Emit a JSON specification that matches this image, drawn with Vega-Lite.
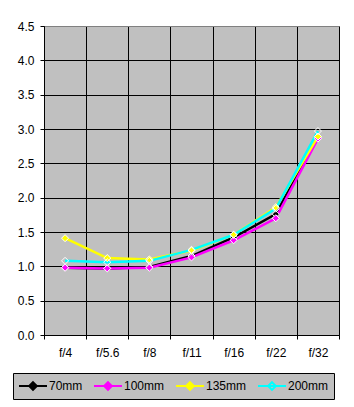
{
  "$schema": "https://vega.github.io/schema/vega-lite/v6.json",
  "width": 295,
  "height": 309,
  "autosize": "none",
  "padding": {"left": 44, "top": 26, "right": 15, "bottom": 72},
  "background": "white",
  "config": {
    "view": {"fill": "#c0c0c0", "stroke": "#808080", "strokeWidth": 1},
    "font": "Liberation Sans",
    "axis": {
      "labelFont": "Liberation Sans",
      "labelFontSize": 12,
      "labelColor": "black",
      "domainColor": "black",
      "tickColor": "black",
      "gridColor": "black",
      "gridOpacity": 1,
      "tickSize": 4
    },
    "legend": {"labelFont": "Liberation Sans"}
  },
  "data": {
    "values": [
      {"fstop": "f/4", "lens": "70mm", "value": 0.98},
      {"fstop": "f/5.6", "lens": "70mm", "value": 0.97},
      {"fstop": "f/8", "lens": "70mm", "value": 0.99},
      {"fstop": "f/11", "lens": "70mm", "value": 1.15},
      {"fstop": "f/16", "lens": "70mm", "value": 1.42},
      {"fstop": "f/22", "lens": "70mm", "value": 1.76},
      {"fstop": "f/32", "lens": "70mm", "value": 2.88},
      {"fstop": "f/4", "lens": "100mm", "value": 0.98},
      {"fstop": "f/5.6", "lens": "100mm", "value": 0.97},
      {"fstop": "f/8", "lens": "100mm", "value": 0.98},
      {"fstop": "f/11", "lens": "100mm", "value": 1.13},
      {"fstop": "f/16", "lens": "100mm", "value": 1.38},
      {"fstop": "f/22", "lens": "100mm", "value": 1.70},
      {"fstop": "f/32", "lens": "100mm", "value": 2.86},
      {"fstop": "f/4", "lens": "135mm", "value": 1.41},
      {"fstop": "f/5.6", "lens": "135mm", "value": 1.12},
      {"fstop": "f/8", "lens": "135mm", "value": 1.10},
      {"fstop": "f/11", "lens": "135mm", "value": 1.23},
      {"fstop": "f/16", "lens": "135mm", "value": 1.46},
      {"fstop": "f/22", "lens": "135mm", "value": 1.86},
      {"fstop": "f/32", "lens": "135mm", "value": 2.89},
      {"fstop": "f/4", "lens": "200mm", "value": 1.08},
      {"fstop": "f/5.6", "lens": "200mm", "value": 1.06},
      {"fstop": "f/8", "lens": "200mm", "value": 1.08},
      {"fstop": "f/11", "lens": "200mm", "value": 1.24},
      {"fstop": "f/16", "lens": "200mm", "value": 1.46},
      {"fstop": "f/22", "lens": "200mm", "value": 1.84},
      {"fstop": "f/32", "lens": "200mm", "value": 2.97}
    ]
  },
  "encoding": {
    "x": {
      "field": "fstop",
      "type": "ordinal",
      "sort": ["f/4", "f/5.6", "f/8", "f/11", "f/16", "f/22", "f/32"],
      "scale": {"paddingInner": 0, "paddingOuter": 0},
      "axis": {"title": null, "labelAngle": 0, "tickBand": "extent", "grid": true, "labelPadding": 8}
    },
    "y": {
      "field": "value",
      "type": "quantitative",
      "scale": {"domain": [0, 4.5], "nice": false, "zero": true},
      "axis": {
        "title": null,
        "values": [0, 0.5, 1, 1.5, 2, 2.5, 3, 3.5, 4, 4.5],
        "format": ".1f",
        "labelPadding": 6,
        "gridColor": {"condition": {"test": "datum.value === 4.5", "value": "#808080"}, "value": "black"}
      }
    }
  },
  "layer": [
    {
      "mark": {"type": "line", "strokeWidth": 2.5},
      "encoding": {
        "color": {
          "field": "lens",
          "type": "nominal",
          "scale": {"domain": ["70mm", "100mm", "135mm", "200mm"], "range": ["#000000", "#ff00ff", "#ffff00", "#00ffff"]},
          "legend": {
            "title": null,
            "orient": "none",
            "legendX": -31,
            "legendY": 347,
            "direction": "horizontal",
            "columns": 4,
            "fillColor": "#c0c0c0",
            "strokeColor": "black",
            "padding": 5,
            "labelFontSize": 12,
            "labelColor": "black",
            "symbolType": "M-1,0H3M1,-0.55L1.55,0L1,0.55L0.45,0Z",
            "symbolSize": 196,
            "symbolStrokeWidth": 2,
            "labelOffset": 15,
            "columnPadding": 7
          }
        }
      }
    },
    {
      "mark": {"type": "point", "shape": "diamond", "filled": true, "size": 50, "stroke": "white", "strokeWidth": 1, "opacity": 1},
      "encoding": {
        "fill": {
          "field": "lens",
          "type": "nominal",
          "scale": {"domain": ["70mm", "100mm", "135mm", "200mm"], "range": ["#000000", "#ff00ff", "#ffff00", "transparent"]},
          "legend": null
        }
      }
    }
  ]
}
